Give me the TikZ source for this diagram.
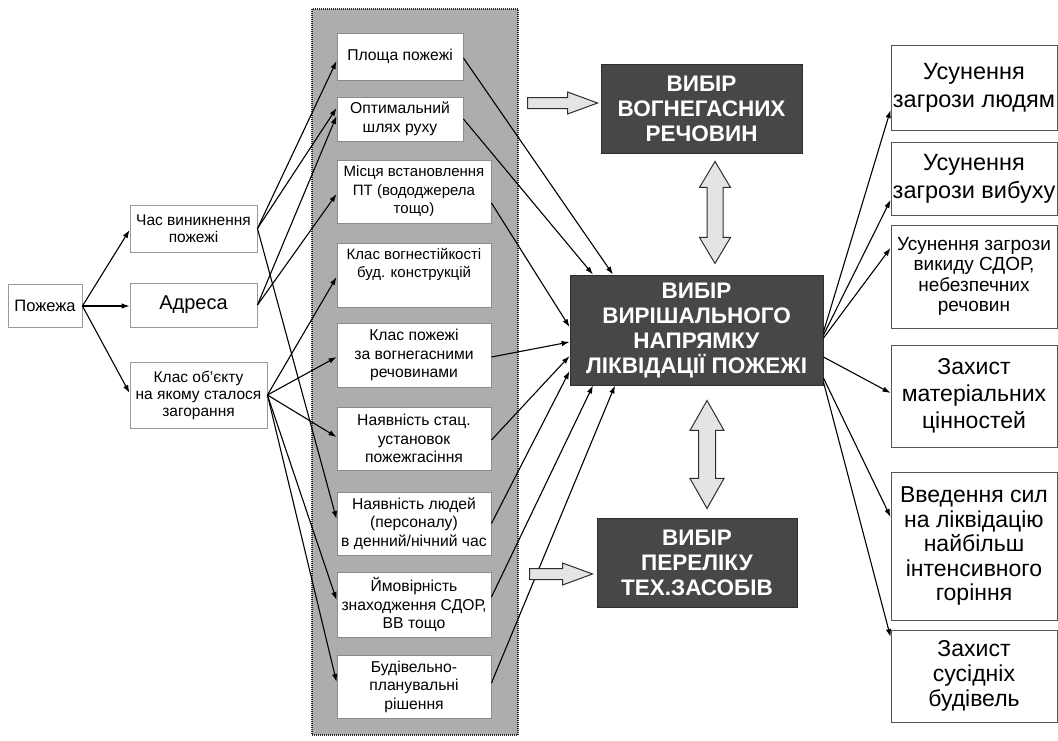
\documentclass[tikz,border=0pt]{standalone}
\usepackage{fontspec}
\setmainfont{Liberation Sans}
\usetikzlibrary{arrows.meta,calc}
\definecolor{panelgray}{HTML}{ADADAD}
\definecolor{darkbox}{HTML}{474747}
\definecolor{darkedge}{HTML}{2E2E2E}
\definecolor{arrowfill}{HTML}{E4E4E4}
\definecolor{lightedge}{HTML}{9A9A9A}
\definecolor{midedge}{HTML}{8C8C8C}
\definecolor{rightedge}{HTML}{555555}
\newcommand\myfs[2]{\fontsize{#1}{#2}\selectfont}
\begin{document}
\begin{tikzpicture}[x=1pt,y=-1pt,
  lbox/.style={draw=lightedge, line width=0.9pt, fill=white, align=center, inner sep=0pt},
  mbox/.style={draw=midedge, line width=0.9pt, fill=white, align=center, inner sep=0pt, font=\myfs{15.7}{18.5}},
  dbox/.style={draw=darkedge, line width=0.9pt, fill=darkbox, text=white, align=center, inner sep=0pt, font=\myfs{22.5}{25}\bfseries},
  rbox/.style={draw=rightedge, line width=0.9pt, fill=white, align=center, inner sep=0pt, font=\myfs{23.5}{28}},
  panel/.style={fill=panelgray, draw=black!85, line width=1.3pt, dash pattern=on 1pt off 1pt, inner sep=0pt},
  conn/.style={line width=1.1pt, -{Latex[length=8pt,width=5.5pt]}},
  blockarrow/.style={fill=arrowfill, draw=darkedge, line width=1pt, line join=miter}
]
\useasboundingbox (0,0) rectangle (1058,740);
\fill[white] (0,0) rectangle (1058,740);

% gray panel
\node[panel, minimum width=206, minimum height=726] (pan) at (415,372) {};

% left column
\node[lbox, minimum width=74, minimum height=43, font=\myfs{16.5}{19}] (pozh) at (45,306) {Пожежа};
\node[lbox, minimum width=127, minimum height=47, font=\myfs{15.5}{17.5}] (chas) at (193.5,228.5) {Час виникнення\\пожежі};
\node[lbox, minimum width=127, minimum height=44, font=\myfs{20}{23}] (adr) at (193.5,305) {Адреса};
\node[lbox, minimum width=137, minimum height=66, font=\myfs{15.5}{17}] (klas) at (198.5,395) {Клас об’єкту\\на якому сталося\\загорання};

% middle column
\node[mbox, minimum width=126, minimum height=47] (plo) at (400,56.5) {Площа пожежі};
\node[mbox, minimum width=126, minimum height=44] (opt) at (400,119) {Оптимальний\\шлях руху};
\node[mbox, minimum width=154, minimum height=63, font=\myfs{15}{18.5}] (mis) at (414,191.5) {Місця встановлення\\ПТ (вододжерела\\тощо)};
\node[mbox, minimum width=154, minimum height=64, font=\myfs{15}{18.5}] (kvo) at (414,275) {Клас вогнестійкості\\буд. конструкцій\\\strut};
\node[mbox, minimum width=154, minimum height=64] (kpo) at (414,355) {Клас пожежі\\за вогнегасними\\речовинами};
\node[mbox, minimum width=154, minimum height=63] (sta) at (414,438.5) {Наявність стац.\\установок\\пожежгасіння};
\node[mbox, minimum width=154, minimum height=63] (lud) at (414,523.5) {Наявність людей\\(персоналу)\\в денний/нічний час};
\node[mbox, minimum width=154, minimum height=65] (ymo) at (414,604.5) {Ймовірність\\знаходження СДОР,\\ВВ тощо};
\node[mbox, minimum width=154, minimum height=63] (bud) at (414,686.5) {Будівельно-\\планувальні\\рішення};

% dark boxes
\node[dbox, minimum width=201, minimum height=89] (vog) at (701.5,108.5) {ВИБІР\\ВОГНЕГАСНИХ\\РЕЧОВИН};
\node[dbox, minimum width=253, minimum height=110] (cen) at (696.5,330) {ВИБІР\\ВИРІШАЛЬНОГО\\НАПРЯМКУ\\ЛІКВІДАЦІЇ ПОЖЕЖІ};
\node[dbox, minimum width=200, minimum height=89] (per) at (697,562.5) {ВИБІР\\ПЕРЕЛІКУ\\ТЕХ.ЗАСОБІВ};

% right column
\node[rbox, minimum width=166, minimum height=85] (r1) at (974,87.5) {Усунення\\загрози людям};
\node[rbox, minimum width=166, minimum height=73] (r2) at (974,178.5) {Усунення\\загрози вибуху};
\node[rbox, minimum width=166, minimum height=103, font=\myfs{19}{20.5}] (r3) at (974,276.5) {Усунення загрози\\викиду СДОР,\\небезпечних\\речовин};
\node[rbox, minimum width=166, minimum height=102, font=\myfs{23}{27}] (r4) at (974,396) {Захист\\матеріальних\\цінностей};
\node[rbox, minimum width=166, minimum height=148, font=\myfs{23}{24.5}] (r5) at (974,546) {Введення сил\\на ліквідацію\\найбільш\\інтенсивного\\горіння};
\node[rbox, minimum width=166, minimum height=92, font=\myfs{23}{25}] (r6) at (974,676) {Захист\\сусідніх\\будівель};

% left connectors
\draw[conn] (pozh.east) -- ($(chas.west)+(0,1.5)$);
\draw[conn] (pozh.east) -- ($(adr.west)+(0,1)$);
\draw[conn] (pozh.east) -- ($(klas.west)+(0,-2)$);

\draw[conn] (chas.east) -- ($(plo.west)+(0,4.5)$);
\draw[conn] (chas.east) -- ($(opt.west)+(0,-11)$);
\draw[conn] (chas.east) -- ($(lud.west)+(0,-4.5)$);
\draw[conn] (adr.east) -- ($(opt.west)+(0,-3)$);
\draw[conn] (adr.east) -- ($(mis.west)+(0,2.5)$);
\draw[conn] (klas.east) -- ($(kvo.west)+(0,2)$);
\draw[conn] (klas.east) -- ($(kpo.west)+(0,2)$);
\draw[conn] (klas.east) -- ($(sta.west)+(0,-1.5)$);
\draw[conn] (klas.east) -- ($(ymo.west)+(0,-4.5)$);
\draw[conn] (klas.east) -- ($(bud.west)+(0,-4.5)$);

% middle to centre
\draw[conn] ($(plo.east)+(0,1.5)$) -- ($(cen.north)+(-83.5,0)$);
\draw[conn] (opt.east) -- ($(cen.north)+(-103.5,0)$);
\draw[conn] ($(mis.east)+(0,11.5)$) -- ($(cen.west)+(0,-3)$);
\draw[conn] ($(kpo.east)+(0,2)$) -- ($(cen.west)+(0,12)$);
\draw[conn] ($(sta.east)+(0,1.5)$) -- ($(cen.west)+(0,26)$);
\draw[conn] (lud.east) -- ($(cen.west)+(0,41)$);
\draw[conn] ($(ymo.east)+(0,-7.5)$) -- ($(cen.south)+(-103.5,0)$);
\draw[conn] ($(bud.east)+(0,-3.5)$) -- ($(cen.south)+(-81.5,0)$);

% centre to right
\draw[conn] ($(cen.east)+(0,2)$) -- ($(r1.west)+(0,22.5)$);
\draw[conn] ($(cen.east)+(0,5)$) -- ($(r2.west)+(0,21.5)$);
\draw[conn] ($(cen.east)+(0,8)$) -- ($(r3.west)+(0,-28.5)$);
\draw[conn] ($(cen.east)+(0,27)$) -- ($(r4.west)+(0,-3)$);
\draw[conn] ($(cen.east)+(0,48)$) -- ($(r5.west)+(0,-29)$);
\draw[conn] ($(cen.east)+(0,52)$) -- ($(r6.west)+(0,-39)$);

% block arrows
\coordinate (ha1) at ($(vog.west)+(-3,-5.5)$);
\begin{scope}[shift={(ha1)}]
\draw[blockarrow] (0,0) -- (-30,-11) -- (-30,-5.5) -- (-70,-5.5) -- (-70,5.5) -- (-30,5.5) -- (-30,11) -- cycle;
\end{scope}
\coordinate (ha2) at ($(per.west)+(-4,11.5)$);
\begin{scope}[shift={(ha2)}]
\draw[blockarrow] (0,0) -- (-30,-11) -- (-30,-5.5) -- (-63,-5.5) -- (-63,5.5) -- (-30,5.5) -- (-30,11) -- cycle;
\end{scope}
\coordinate (va1) at ($(vog.south)+(13.5,8)$);
\begin{scope}[shift={(va1)}]
\draw[blockarrow] (0,0) -- (15.5,26) -- (8,26) -- (8,76) -- (15.5,76) -- (0,102) -- (-15.5,76) -- (-8,76) -- (-8,26) -- (-15.5,26) -- cycle;
\end{scope}
\coordinate (va2) at ($(cen.south)+(10.5,15)$);
\begin{scope}[shift={(va2)}]
\draw[blockarrow] (0,0) -- (17,30) -- (8.5,30) -- (8.5,78) -- (17,78) -- (0,108) -- (-17,78) -- (-8.5,78) -- (-8.5,30) -- (-17,30) -- cycle;
\end{scope}
\end{tikzpicture}
\end{document}
